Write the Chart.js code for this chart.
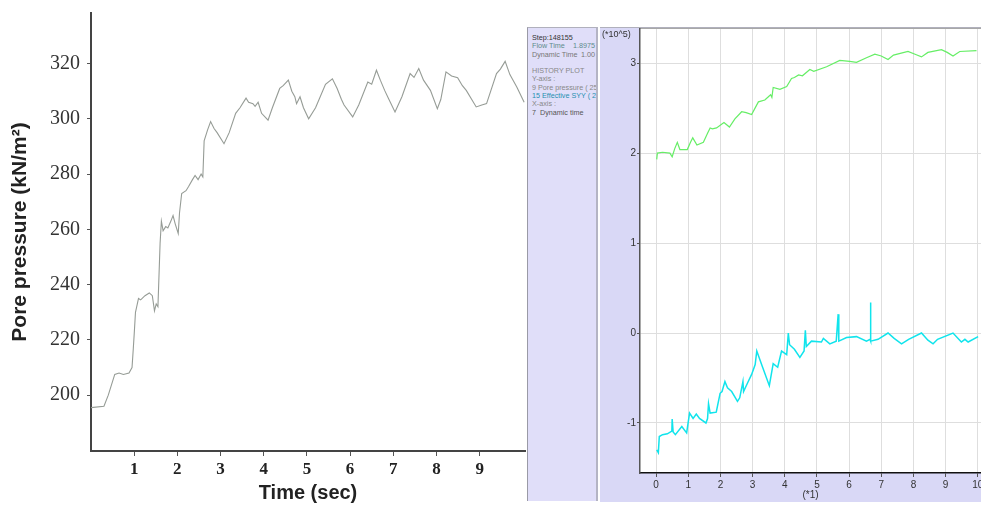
<!DOCTYPE html>
<html>
<head>
<meta charset="utf-8">
<script src="https://cdn.jsdelivr.net/npm/chart.js@4.4.1/dist/chart.umd.min.js"></script>
<style>
  body { margin: 0; background: #fff; width: 981px; height: 505px; overflow: hidden; position: relative; font-family: Arial, "Liberation Sans", sans-serif; }
  #left { position: absolute; left: 0; top: 0; }
  #side {
    position: absolute; left: 527px; top: 27px; width: 71px; height: 474px;
    background: #e0def9; border-left: 1px solid #9a9aa6; border-top: 1px solid #b0b0bc;
    border-right: 2px solid #b4b4c4; font-size: 7.2px; line-height: 8.3px; padding-top: 6px;
    box-sizing: border-box; padding-left: 4px; color: #888; white-space: nowrap; overflow: hidden;
  }
  #side .row { display: flex; justify-content: space-between; padding-right: 1px; }
  #frame { position: absolute; left: 600px; top: 27px; width: 381px; height: 475px; background: #d9d8f6; border-top: 1px solid #b0b0bc; box-sizing: border-box; }
  #right { position: absolute; left: 600px; top: 27px; }
</style>
</head>
<body>
<canvas id="left" width="527" height="505"></canvas>
<div id="side">
  <div style="color:#333">Step:148155</div>
  <div class="row" style="color:#5e8c8c"><span>Flow Time</span><span>1.8975</span></div>
  <div class="row" style="color:#777"><span>Dynamic Time</span><span>1.00</span></div>
  <div>&nbsp;</div>
  <div>HISTORY PLOT</div>
  <div>Y-axis :</div>
  <div>9 Pore pressure ( 25,</div>
  <div style="color:#1f8fb0">15 Effective SYY ( 2</div>
  <div>X-axis :</div>
  <div style="color:#555">7&nbsp; Dynamic time</div>
</div>
<div id="frame"></div>
<canvas id="right" width="381" height="475"></canvas>
<script>
// left panel: measured pore pressure
const timeSec = [0, 0.3, 0.4, 0.55, 0.65, 0.75, 0.88, 0.95, 0.98, 1.0, 1.03, 1.1, 1.15, 1.25, 1.35, 1.42, 1.47, 1.51, 1.55,
  1.6, 1.63, 1.67, 1.73, 1.78, 1.85, 1.9, 1.95, 2.02, 2.05, 2.1, 2.2, 2.26, 2.35, 2.41, 2.48, 2.55, 2.59, 2.62, 2.7, 2.77,
  2.85, 2.92, 3.08, 3.2, 3.35, 3.45, 3.59, 3.65, 3.75, 3.8, 3.87, 3.95, 4.1, 4.2, 4.37, 4.45, 4.57, 4.65, 4.72, 4.76, 4.84,
  4.92, 5.04, 5.2, 5.43, 5.59, 5.7, 5.8, 5.86, 6.06, 6.2, 6.41, 6.5, 6.61, 6.7, 6.8, 6.9, 7.04, 7.2, 7.39, 7.48, 7.59, 7.7,
  7.86, 8.02, 8.1, 8.22, 8.35, 8.49, 8.6, 8.69, 8.92, 9.05, 9.16, 9.39, 9.48, 9.59, 9.7, 9.86, 10.03];
const porePressure = [195.5, 196, 200, 207.5, 208, 207.5, 208, 210, 217, 222, 230, 235, 234.5, 236, 237, 236, 230.5, 233, 232,
  255, 263, 259.5, 261, 260.5, 263, 265, 262, 258.5, 266, 273, 274, 275.5, 278, 279.5, 278, 280, 279, 292, 296, 299,
  296.5, 295, 291, 295, 302, 304, 307.5, 306, 305.5, 304.5, 306, 302, 299.5, 304, 311, 312, 314, 310, 308, 305.5, 308,
  304, 300, 304, 312.5, 314.5, 311, 307, 305, 300.7, 305, 313.3, 312.5, 317.6, 314, 310.3, 307, 302.5, 308, 316.4, 315, 318.2, 314,
  310.3, 303.7, 307, 317, 315.5, 314.9, 312, 310.3, 304.3, 305, 305.5, 316.4, 318, 320.8, 316, 311.5, 306];
const leftXTicks = [1, 2, 3, 4, 5, 6, 7, 8, 9];
const leftYTicks = [200, 220, 240, 260, 280, 300, 320];

// right panel: history plot (y in *10^5, x in *1)
const greenT = [0.02, 0.04, 0.2, 0.43, 0.5, 0.58, 0.66, 0.74, 0.97, 1.07, 1.14, 1.27, 1.47, 1.6, 1.68, 1.75, 1.88, 2.11, 2.28,
  2.45, 2.66, 2.8, 2.97, 3.18, 3.38, 3.5, 3.56, 3.6, 3.64, 3.85, 4.06, 4.21, 4.3, 4.43, 4.55, 4.78, 4.9, 5.3, 5.71, 6.02,
  6.23, 6.54, 6.8, 7.0, 7.21, 7.38, 7.83, 8.05, 8.25, 8.45, 8.87, 9.05, 9.23, 9.44, 9.96];
const poreHist = [1.93, 2.0, 2.01, 2.0, 1.96, 2.05, 2.12, 2.04, 2.04, 2.12, 2.17, 2.09, 2.12, 2.22, 2.28, 2.27, 2.28, 2.34, 2.29,
  2.38, 2.46, 2.45, 2.43, 2.57, 2.59, 2.63, 2.65, 2.62, 2.73, 2.71, 2.74, 2.83, 2.84, 2.87, 2.86, 2.93, 2.91, 2.96, 3.03, 3.02,
  3.01, 3.06, 3.1, 3.08, 3.04, 3.09, 3.13, 3.1, 3.07, 3.12, 3.15, 3.12, 3.08, 3.13, 3.14];
const cyanT = [0.02, 0.07, 0.1, 0.2, 0.35, 0.49, 0.5, 0.53, 0.6, 0.8, 0.95, 1.04, 1.15, 1.25, 1.35, 1.55, 1.6, 1.63, 1.68, 1.87,
  1.99, 2.05, 2.14, 2.22, 2.35, 2.53, 2.6, 2.7, 2.72, 2.85, 2.97, 3.08, 3.13, 3.3, 3.52, 3.64, 3.78, 3.9, 4.06, 4.11,
  4.15, 4.3, 4.47, 4.6, 4.64, 4.67, 4.83, 5.14, 5.2, 5.4, 5.6, 5.66, 5.68, 5.92, 6.23, 6.54, 6.65, 6.66, 6.68, 6.9,
  7.21, 7.4, 7.63, 7.85, 8.25, 8.45, 8.61, 8.75, 9.23, 9.49, 9.6, 9.7, 10.01];
const syyHist = [-1.3, -1.33, -1.15, -1.13, -1.12, -1.09, -0.956, -1.1, -1.13, -1.04, -1.11, -0.89, -0.95, -0.9, -0.95, -1.0, -0.95, -0.785, -0.89, -0.88,
  -0.67, -0.65, -0.54, -0.61, -0.65, -0.76, -0.72, -0.54, -0.65, -0.55, -0.46, -0.35, -0.2, -0.37, -0.585, -0.34, -0.38, -0.2, -0.24, 0.0,
  -0.13, -0.18, -0.27, -0.2, 0.03, -0.15, -0.09, -0.1, -0.06, -0.12, -0.09, 0.21, -0.09, -0.05, -0.04, -0.09, -0.07, 0.34, -0.09, -0.07,
  0.0, -0.06, -0.12, -0.07, 0.0, -0.08, -0.12, -0.07, 0.0, -0.1, -0.07, -0.1, -0.04];
const rightXTicks = [0, 1, 2, 3, 4, 5, 6, 7, 8, 9, 10];
const rightYTicks = [-1, 0, 1, 2, 3];

const pairs = (xs, ys) => xs.map((x, i) => ({ x: x, y: ys[i] }));
const setTicks = (vals) => (scale) => { scale.ticks = vals.map(v => ({ value: v })); };

new Chart(document.getElementById('left'), {
  type: 'line',
  data: {
    datasets: [{
      data: pairs(timeSec, porePressure),
      borderColor: '#969c96',
      borderWidth: 1.1,
      pointRadius: 0,
      tension: 0,
    }],
  },
  options: {
    responsive: false,
    animation: false,
    devicePixelRatio: 1,
    layout: { padding: { left: 6, top: 13, right: 2, bottom: 0 } },
    plugins: { legend: { display: false }, tooltip: { enabled: false } },
    scales: {
      x: {
        type: 'linear', min: 0, max: 10.05,
        afterBuildTicks: setTicks(leftXTicks),
        afterFit: (s) => { s.height = 54; s.paddingLeft = 0; s.paddingRight = 0; },
        grid: { display: true, drawOnChartArea: false, tickLength: 5, tickColor: '#555' },
        border: { display: true, color: '#444', width: 2 },
        ticks: { color: '#222', padding: 3, font: { family: 'Liberation Serif', size: 17, weight: 'bold' }, maxRotation: 0 },
        title: { display: true, text: 'Time (sec)', color: '#222', padding: 0, font: { family: 'Liberation Sans', size: 20, weight: 'bold' } },
      },
      y: {
        min: 179.8, max: 338.3,
        afterBuildTicks: setTicks(leftYTicks),
        afterFit: (s) => { s.width = 85; s.paddingTop = 0; s.paddingBottom = 0; },
        grid: { display: true, drawOnChartArea: false, tickLength: 4, tickColor: '#555' },
        border: { display: true, color: '#444', width: 2 },
        ticks: { color: '#333', padding: 7, font: { family: 'Liberation Serif', size: 20 } },
        title: { display: true, text: 'Pore pressure (kN/m²)', color: '#222', padding: { top: 2, bottom: 0 }, font: { family: 'Liberation Sans', size: 21, weight: 'bold' } },
      },
    },
  },
});

// white plot area + top edge + axis multiplier label
const historyFrame = {
  id: 'historyFrame',
  beforeDraw(chart) {
    const { ctx, chartArea: a } = chart;
    ctx.save();
    ctx.fillStyle = '#ffffff';
    ctx.fillRect(a.left, a.top, a.right - a.left, a.bottom - a.top);
    ctx.strokeStyle = '#a8a8a8';
    ctx.lineWidth = 1;
    ctx.beginPath();
    ctx.moveTo(a.left, a.top - 0.5);
    ctx.lineTo(a.right, a.top - 0.5);
    ctx.stroke();
    ctx.restore();
  },
  afterDraw(chart) {
    const ctx = chart.ctx;
    ctx.save();
    ctx.fillStyle = '#333';
    ctx.font = '9px Arial, "Liberation Sans"';
    ctx.textBaseline = 'middle';
    ctx.fillText('(*10^5)', 2, 8);
    ctx.restore();
  },
};

const thinGrid = { display: true, color: '#dedede', lineWidth: 1, tickLength: 4, tickColor: '#555' };

new Chart(document.getElementById('right'), {
  type: 'line',
  data: {
    datasets: [
      {
        data: pairs(greenT, poreHist),
        borderColor: '#66ee66',
        borderWidth: 1.2,
        pointRadius: 0,
        tension: 0,
      },
      {
        data: pairs(cyanT, syyHist),
        borderColor: '#10e4ec',
        borderWidth: 1.5,
        pointRadius: 0,
        tension: 0,
      },
    ],
  },
  options: {
    responsive: false,
    animation: false,
    devicePixelRatio: 1,
    layout: { padding: { left: 0, top: 2, right: 0, bottom: 0 } },
    plugins: { legend: { display: false }, tooltip: { enabled: false } },
    scales: {
      x: {
        type: 'linear', min: -0.5, max: 10.1,
        afterBuildTicks: setTicks(rightXTicks),
        afterFit: (s) => { s.height = 29; s.paddingLeft = 0; s.paddingRight = 0; },
        grid: thinGrid,
        border: { display: true, color: '#111', width: 1.5 },
        ticks: { color: '#333', padding: 2, font: { family: 'Arial', size: 10 }, maxRotation: 0 },
        title: { display: true, text: '(*1)', color: '#333', padding: { top: 0, bottom: 1 }, font: { family: 'Arial', size: 10 } },
      },
      y: {
        min: -1.556, max: 3.38,
        afterBuildTicks: setTicks(rightYTicks),
        afterFit: (s) => { s.width = 40; s.paddingTop = 0; s.paddingBottom = 0; },
        grid: { ...thinGrid, tickLength: 3 },
        border: { display: true, color: '#555', width: 1.5 },
        ticks: { color: '#333', padding: 1, font: { family: 'Arial', size: 10 } },
      },
    },
  },
  plugins: [historyFrame],
});
</script>
</body>
</html>
